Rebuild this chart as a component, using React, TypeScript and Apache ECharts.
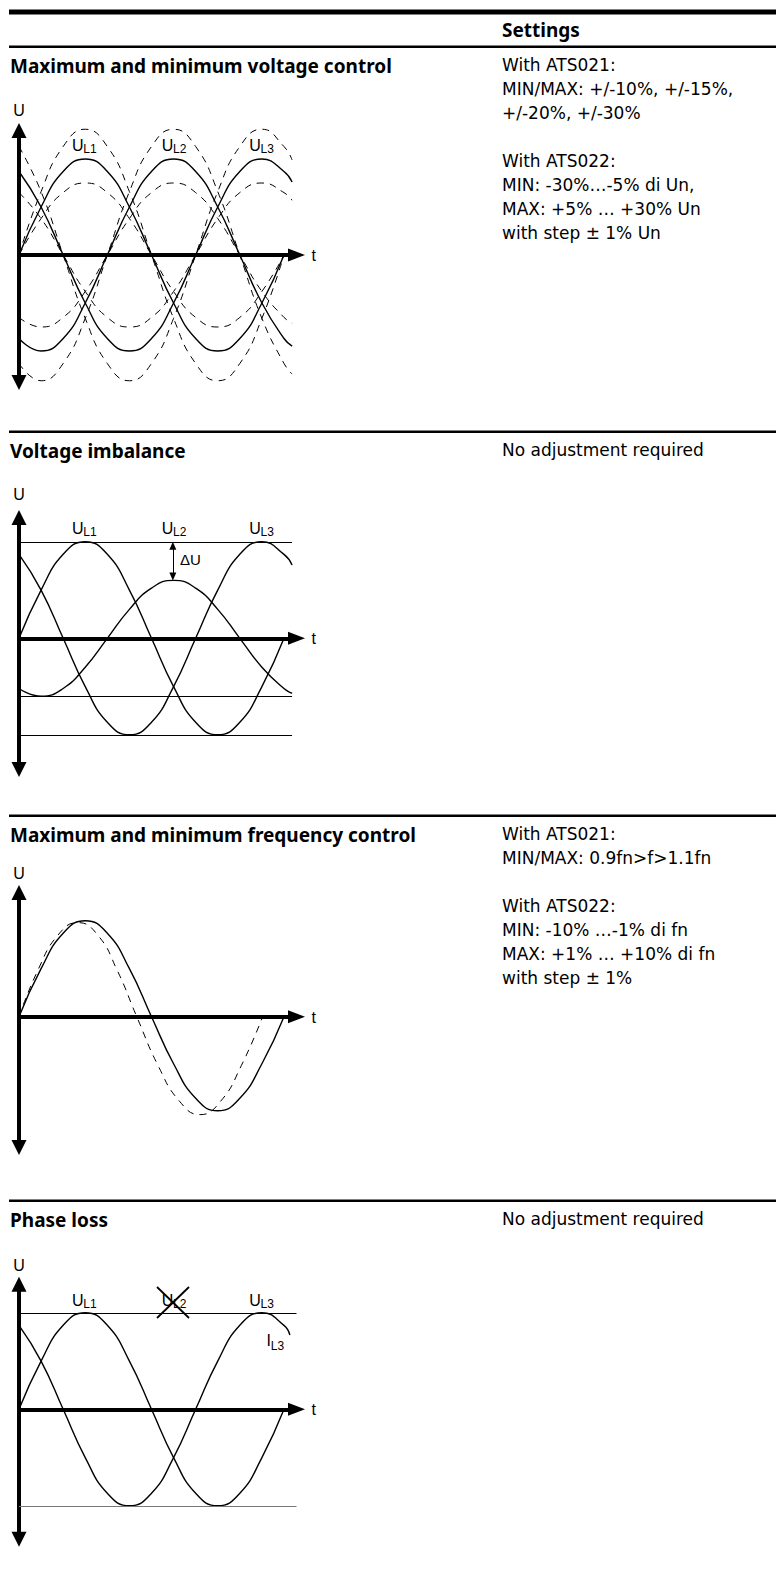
import React, { useEffect, useRef } from "react";
import * as echarts from "echarts";

const W = 776;
const H = 1575;

// ---------- data (phase in electrical degrees, values in % of nominal amplitude) ----------
const T = [0, 30, 60, 90, 120, 150, 180, 210, 240, 270, 300, 330, 360];
const T_EXT = [0, 30, 60, 90, 120, 150, 180, 210, 240, 270, 300, 330, 360, 371];

// Panel 1: maximum / minimum voltage control
const P1_UL1 = [0, 50, 87, 100, 87, 50, 0, -50, -87, -100, -87, -50, 0];
const P1_UL2 = [-87, -100, -87, -50, 0, 50, 87, 100, 87, 50, 0, -50, -87, -95];
const P1_UL3 = [87, 50, 0, -50, -87, -100, -87, -50, 0, 50, 87, 100, 87, 76];
const P1_UL1_MAX = [0, 66, 113, 131, 113, 66, 0, -66, -113, -131, -113, -66, 0];
const P1_UL2_MAX = [-113, -131, -113, -66, 0, 66, 113, 131, 113, 66, 0, -66, -113, -124];
const P1_UL3_MAX = [113, 66, 0, -66, -113, -131, -113, -66, 0, 66, 113, 131, 113, 99];
const P1_UL1_MIN = [0, 38, 65, 75, 65, 38, 0, -38, -65, -75, -65, -38, 0];
const P1_UL2_MIN = [-65, -75, -65, -38, 0, 38, 65, 75, 65, 38, 0, -38, -65, -71];
const P1_UL3_MIN = [65, 38, 0, -38, -65, -75, -65, -38, 0, 38, 65, 75, 65, 57];

// Panel 2: voltage imbalance
const P2_UL1 = [0, 50, 87, 100, 87, 50, 0, -50, -87, -100, -87, -50, 0];
const P2_UL2 = [-52, -60, -52, -30, 0, 30, 52, 60, 52, 30, 0, -30, -52, -57];
const P2_UL3 = [87, 50, 0, -50, -87, -100, -87, -50, 0, 50, 87, 100, 87, 76];
const P2_LEVELS = [100, -60, -100];
const P2_DELTA_U = { phase: 209, from: 100, to: 60 };

// Panel 3: maximum / minimum frequency control
const P3_NOMINAL = [0, 50, 87, 100, 87, 50, 0, -49, -85, -98, -85, -49, 0];
const P3_HI_T = [0, 26, 53, 80, 107, 133, 160, 189, 218, 246, 274, 302, 331];
const P3_HI = [0, 49, 85, 98, 85, 49, 0, -51, -88, -102, -88, -51, 0];

// Panel 4: phase loss
const P4_UL1 = [0, 50, 87, 100, 87, 50, 0, -50, -87, -100, -87, -50, 0];
const P4_UL3_T = [0, 30, 60, 90, 120, 150, 180, 210, 240, 270, 300, 330, 360, 368];
const P4_UL3 = [87, 50, 0, -50, -87, -100, -87, -50, 0, 50, 87, 100, 87, 77];
const P4_LEVELS = [100, -100];

// ---------- texts ----------
const HEADINGS = [
  "Maximum and minimum voltage control",
  "Voltage imbalance",
  "Maximum and minimum frequency control",
  "Phase loss",
];
const SETTINGS_TITLE = "Settings";
const SETTINGS = [
  ["With ATS021:", "MIN/MAX: +/-10%, +/-15%,", "+/-20%, +/-30%", "", "With ATS022:", "MIN: -30%\u2026-5% di Un,", "MAX: +5% \u2026 +30% Un", "with step \u00b1 1% Un"],
  ["No adjustment required"],
  ["With ATS021:", "MIN/MAX: 0.9fn>f>1.1fn", "", "With ATS022:", "MIN: -10% \u2026-1% di fn", "MAX: +1% \u2026 +10% di fn", "with step \u00b1 1%"],
  ["No adjustment required"],
];

// ---------- layout ----------
const PANELS = [
  { top: 130.5, bottom: 382.5, zero: 255, k: 0.96, head: 66, sep: 46.7, label: 145, uY: 110.5 },
  { top: 517.5, bottom: 769.5, zero: 638.3, k: 0.965, head: 451, sep: 431.7, label: 528.3, uY: 494.5 },
  { top: 892.5, bottom: 1147.5, zero: 1016.7, k: 0.96, head: 835, sep: 815.7, label: 0, uY: 873 },
  { top: 1284.2, bottom: 1539.2, zero: 1409.3, k: 0.965, head: 1220, sep: 1200.7, label: 1300.7, uY: 1265 },
];
const AX_LEFT = 19;
const AX_WIDTH = 277.5;
const X_MAX = 377;

const HEAD_FONT = "bold 19px 'Noto Sans', 'Open Sans', sans-serif";
const BODY_FONT = "17px 'DejaVu Sans', 'Noto Sans', sans-serif";
const DIA = "'Liberation Sans', Arial, sans-serif";

function pairs(xs: number[], ys: number[]) {
  return ys.map((y, i) => [xs[i], y]);
}

function text(x: number, y: number, t: string, font: string, align = "left", fill = "#000") {
  return {
    type: "text",
    x,
    y,
    silent: true,
    z: 10,
    style: { text: t, font, fill, textAlign: align, textVerticalAlign: "middle", align, verticalAlign: "middle" },
  };
}

function hline(x1: number, x2: number, y: number, w: number) {
  return { type: "line", silent: true, shape: { x1, y1: y, x2, y2: y }, style: { stroke: "#000", lineWidth: w } };
}

function subLabel(x: number, y: number, main: string, sub: string) {
  return [text(x, y, main, `16px ${DIA}`), text(x + 11.3, y + 3.5, sub, `12px ${DIA}`)];
}

function curve(i: number, data: number[][], dashed: boolean, extra: any = {}) {
  return {
    type: "line",
    xAxisIndex: i,
    yAxisIndex: i,
    data,
    smooth: true,
    symbol: "none",
    showSymbol: false,
    clip: false,
    silent: true,
    z: 3,
    lineStyle: dashed ? { color: "#000", width: 1, type: [7, 6] } : { color: "#000", width: 1.4, type: "solid" },
    emphasis: { disabled: true },
    ...extra,
  };
}

function levelMarks(levels: number[], xEnd: number, colors: string[]) {
  return {
    silent: true,
    symbol: ["none", "none"],
    label: { show: false },
    emphasis: { disabled: true },
    lineStyle: { color: "#000", width: 1, type: "solid" },
    data: levels.map((v, j) => [
      { coord: [0, v], lineStyle: { color: colors[j] || "#000", width: 1, type: "solid" } },
      { coord: [xEnd, v] },
    ]),
  };
}

function buildOption() {
  const grid = PANELS.map((p) => ({
    left: AX_LEFT,
    width: AX_WIDTH,
    top: p.top,
    height: p.bottom - p.top,
    containLabel: false,
    outerBoundsMode: "none",
  }));
  const axisLineStyle = { color: "#000", width: 4 };
  const xAxis = PANELS.map((p, i) => ({
    gridIndex: i,
    type: "value",
    min: 0,
    max: X_MAX,
    axisLine: { show: true, onZero: true, symbol: ["none", "triangle"], symbolSize: [13, 17], lineStyle: axisLineStyle },
    axisTick: { show: false },
    axisLabel: { show: false },
    splitLine: { show: false },
  }));
  const yAxis = PANELS.map((p, i) => ({
    gridIndex: i,
    type: "value",
    min: -(p.bottom - p.zero) / p.k,
    max: (p.zero - p.top) / p.k,
    axisLine: { show: true, onZero: true, symbol: ["triangle", "triangle"], symbolSize: [15, 15], lineStyle: axisLineStyle },
    axisTick: { show: false },
    axisLabel: { show: false },
    splitLine: { show: false },
  }));

  const series: any[] = [
    // panel 1
    curve(0, pairs(T, P1_UL1_MAX), true),
    curve(0, pairs(T_EXT, P1_UL2_MAX), true),
    curve(0, pairs(T_EXT, P1_UL3_MAX), true),
    curve(0, pairs(T, P1_UL1_MIN), true),
    curve(0, pairs(T_EXT, P1_UL2_MIN), true),
    curve(0, pairs(T_EXT, P1_UL3_MIN), true),
    curve(0, pairs(T, P1_UL1), false),
    curve(0, pairs(T_EXT, P1_UL2), false),
    curve(0, pairs(T_EXT, P1_UL3), false),
    // panel 2
    curve(1, pairs(T, P2_UL1), false, { markLine: levelMarks(P2_LEVELS, 371, []) }),
    curve(1, pairs(T_EXT, P2_UL2), false, {
      markLine: {
        silent: true,
        symbol: ["triangle", "triangle"],
        symbolSize: [7, 8],
        label: { show: false },
        emphasis: { disabled: true },
        lineStyle: { color: "#000", width: 1, type: "solid" },
        data: [[{ coord: [P2_DELTA_U.phase, P2_DELTA_U.from - 4.1] }, { coord: [P2_DELTA_U.phase, P2_DELTA_U.to + 4.1] }]],
      },
    }),
    curve(1, pairs(T_EXT, P2_UL3), false),
    // panel 3
    curve(2, pairs(P3_HI_T, P3_HI), true),
    curve(2, pairs(T, P3_NOMINAL), false),
    // panel 4
    curve(3, pairs(T, P4_UL1), false, { markLine: levelMarks(P4_LEVELS, X_MAX, ["#000", "#777"]) }),
    curve(3, pairs(P4_UL3_T, P4_UL3), false),
  ];

  const g: any[] = [];
  // separators
  g.push(hline(9, W, 12, 5));
  PANELS.forEach((p) => g.push(hline(9, W, p.sep, 2.5)));
  g.push(text(502, 30, SETTINGS_TITLE, HEAD_FONT));
  PANELS.forEach((p, i) => {
    g.push(text(10, p.head, HEADINGS[i], HEAD_FONT));
    SETTINGS[i].forEach((line, j) => {
      if (line) g.push(text(502, p.head - 1 + j * 24, line, BODY_FONT));
    });
    g.push(text(19, p.uY, "U", `16px ${DIA}`, "center"));
    g.push(text(311.5, p.zero + 0.5, "t", `16px ${DIA}`));
    if (i !== 2) {
      g.push(...subLabel(72, p.label, "U", "L1"));
      g.push(...subLabel(161.7, p.label, "U", "L2"));
      g.push(...subLabel(249.3, p.label, "U", "L3"));
    }
  });
  // ΔU
  g.push(text(180, 559, "\u0394U", `15px ${DIA}`));
  // phase loss cross and I_L3
  g.push({ type: "line", silent: true, z: 11, shape: { x1: 157, y1: 1287, x2: 189, y2: 1318 }, style: { stroke: "#000", lineWidth: 1.8 } });
  g.push({ type: "line", silent: true, z: 11, shape: { x1: 157, y1: 1318, x2: 189, y2: 1287 }, style: { stroke: "#000", lineWidth: 1.8 } });
  g.push(text(266.5, 1340, "I", `16px ${DIA}`));
  g.push(text(270.8, 1345.5, "L3", `12px ${DIA}`));

  return {
    animation: false,
    backgroundColor: "#fff",
    grid,
    xAxis,
    yAxis,
    series,
    graphic: { elements: g },
  };
}

export default function App() {
  const ref = useRef<HTMLDivElement>(null);
  useEffect(() => {
    document.body.style.margin = "0";
    const chart = echarts.init(ref.current as HTMLDivElement, null, { renderer: "svg", width: W, height: H });
    chart.setOption(buildOption() as any);
    return () => chart.dispose();
  }, []);
  return <div ref={ref} style={{ position: "absolute", left: 0, top: 0, width: W, height: H, background: "#fff" }} />;
}
